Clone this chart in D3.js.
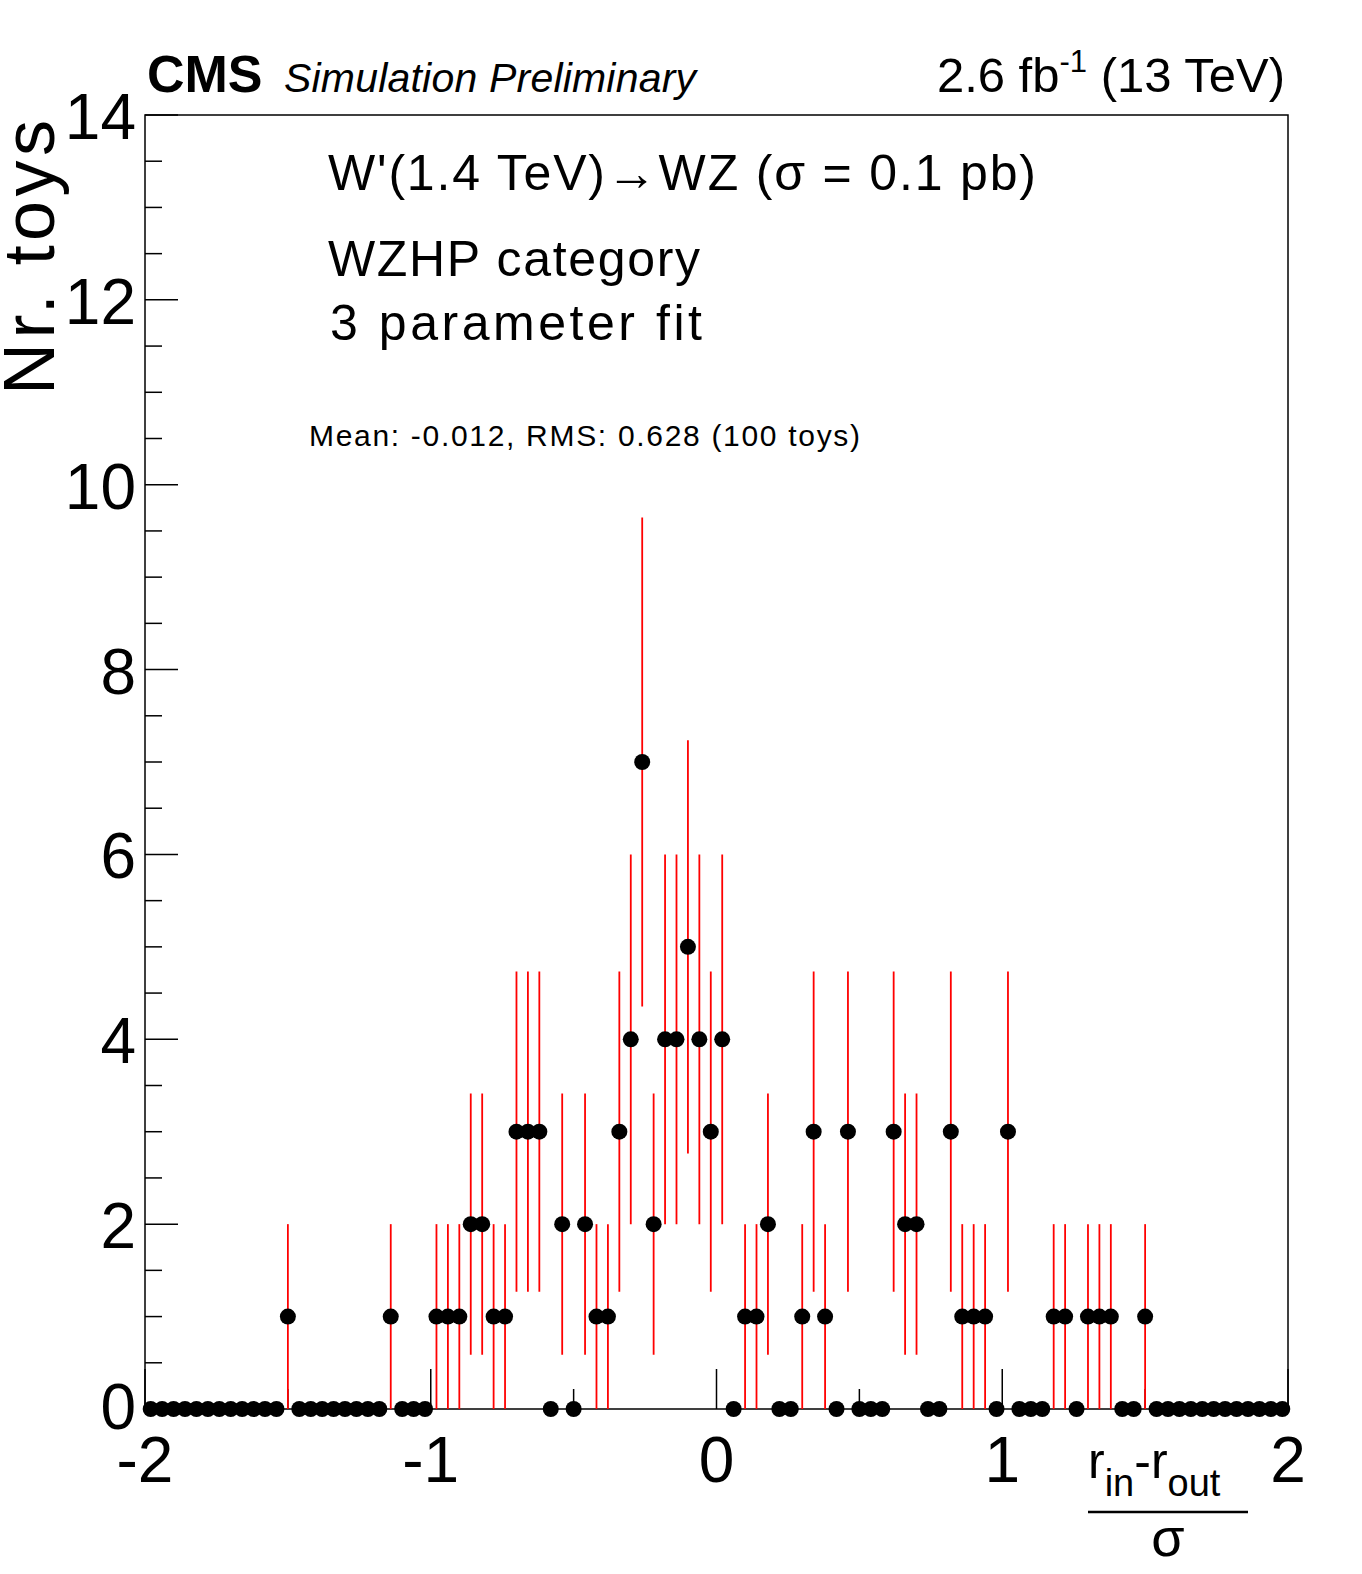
<!DOCTYPE html>
<html><head><meta charset="utf-8">
<script src="https://cdn.jsdelivr.net/npm/d3@7"></script>
<style>body{margin:0;background:#fff}text{font-family:"Liberation Sans",Arial,sans-serif}</style>
</head><body>
<svg id="c" width="1362" height="1574"></svg>
<script>
// histogram: 100 bins from -2 to 2
var xMin = -2, xMax = 2, nBins = 100;
var counts = [
  0,0,0,0,0,0,0,0,0,0, 0,0,1,0,0,0,0,0,0,0,
  0,1,0,0,0,1,1,1,2,2, 1,1,3,3,3,0,2,0,2,1,
  1,3,4,7,2,4,4,5,4,3, 4,0,1,1,2,0,0,1,3,1,
  0,3,0,0,0,3,2,2,0,0, 3,1,1,1,0,3,0,0,0,1,
  1,0,1,1,1,0,0,1,0,0, 0,0,0,0,0,0,0,0,0,0
];
var yTicks = [0,2,4,6,8,10,12,14];
var xTicks = [-2,-1,0,1,2];

var svg = d3.select('#c');
var L = 145, R = 1288, T = 115, B = 1409;
var x = d3.scaleLinear().domain([xMin, xMax]).range([L, R]);
var y = d3.scaleLinear().domain([0, 14]).range([B, T]);
var bw = (xMax - xMin) / nBins;

svg.append('rect').attr('x', L).attr('y', T).attr('width', R - L).attr('height', B - T)
   .attr('fill', 'none').attr('stroke', '#000').attr('stroke-width', 1.5);

// y ticks
d3.range(0, 14.01, 0.5).forEach(function(v){
  var major = v % 2 === 0;
  svg.append('line').attr('x1', L).attr('x2', L + (major ? 33 : 17))
     .attr('y1', y(v)).attr('y2', y(v)).attr('stroke', '#000').attr('stroke-width', 1.5);
});
yTicks.forEach(function(v){
  svg.append('text').attr('x', 136).attr('y', y(v) + (v === 0 ? 20 : 24)).attr('text-anchor', 'end')
     .attr('font-size', 64).text(v);
});

// x ticks
d3.range(-2, 2.01, 0.5).forEach(function(v){
  var major = Math.abs(v % 1) < 1e-9;
  svg.append('line').attr('x1', x(v)).attr('x2', x(v))
     .attr('y1', B).attr('y2', B - (major ? 40 : 20)).attr('stroke', '#000').attr('stroke-width', 1.5);
});
xTicks.forEach(function(v){
  svg.append('text').attr('x', x(v)).attr('y', 1482).attr('text-anchor', 'middle')
     .attr('font-size', 64).text(v < 0 ? '-' + Math.abs(v) : v);
});

// error bars and markers
counts.forEach(function(c, i){
  var cx = x(xMin + bw * (i + 0.5));
  if (c > 0) {
    var e = Math.sqrt(c);
    svg.append('line').attr('x1', cx).attr('x2', cx)
       .attr('y1', y(c - e)).attr('y2', y(c + e)).attr('stroke', '#f00').attr('stroke-width', 1.8);
  }
});
counts.forEach(function(c, i){
  svg.append('circle').attr('cx', x(xMin + bw * (i + 0.5))).attr('cy', y(c)).attr('r', 8).attr('fill', '#000');
});

// header
svg.append('text').attr('x', 147).attr('y', 92).attr('font-size', 52).attr('font-weight', 'bold').text('CMS');
svg.append('text').attr('x', 284).attr('y', 92).attr('font-size', 41).attr('font-style', 'italic')
   .attr('textLength', 412).text('Simulation Preliminary');
var lum = svg.append('text').attr('x', 1285).attr('y', 92).attr('font-size', 49).attr('text-anchor', 'end');
lum.append('tspan').text('2.6 fb');
lum.append('tspan').attr('dy', -20).attr('font-size', 31).text('-1');
lum.append('tspan').attr('dy', 20).text(' (13 TeV)');

// legend text
svg.append('text').attr('x', 328).attr('y', 190).attr('font-size', 50).attr('textLength', 708).text('W\'(1.4 TeV)\u2192WZ (\u03c3 = 0.1 pb)');
svg.append('text').attr('x', 328).attr('y', 276).attr('font-size', 50).attr('textLength', 372).text('WZHP category');
svg.append('text').attr('x', 330).attr('y', 340).attr('font-size', 50).attr('textLength', 372).text('3 parameter fit');
svg.append('text').attr('x', 309).attr('y', 446).attr('font-size', 30).attr('textLength', 551).text('Mean: -0.012, RMS: 0.628 (100 toys)');

// axis titles
svg.append('text').attr('transform', 'translate(54,395) rotate(-90)').attr('font-size', 72)
   .attr('textLength', 275).text('Nr. toys');
var xt = svg.append('text').attr('x', 1088).attr('y', 1478).attr('font-size', 50);
xt.append('tspan').text('r');
xt.append('tspan').attr('dy', 18).attr('font-size', 38).text('in');
xt.append('tspan').attr('dy', -18).text('-r');
xt.append('tspan').attr('dy', 18).attr('font-size', 38).text('out');
svg.append('line').attr('x1', 1088).attr('x2', 1248).attr('y1', 1512).attr('y2', 1512).attr('stroke', '#000').attr('stroke-width', 2.5);
svg.append('text').attr('x', 1168).attr('y', 1556).attr('text-anchor', 'middle').attr('font-size', 54).text('\u03c3');
</script>
</body></html>
